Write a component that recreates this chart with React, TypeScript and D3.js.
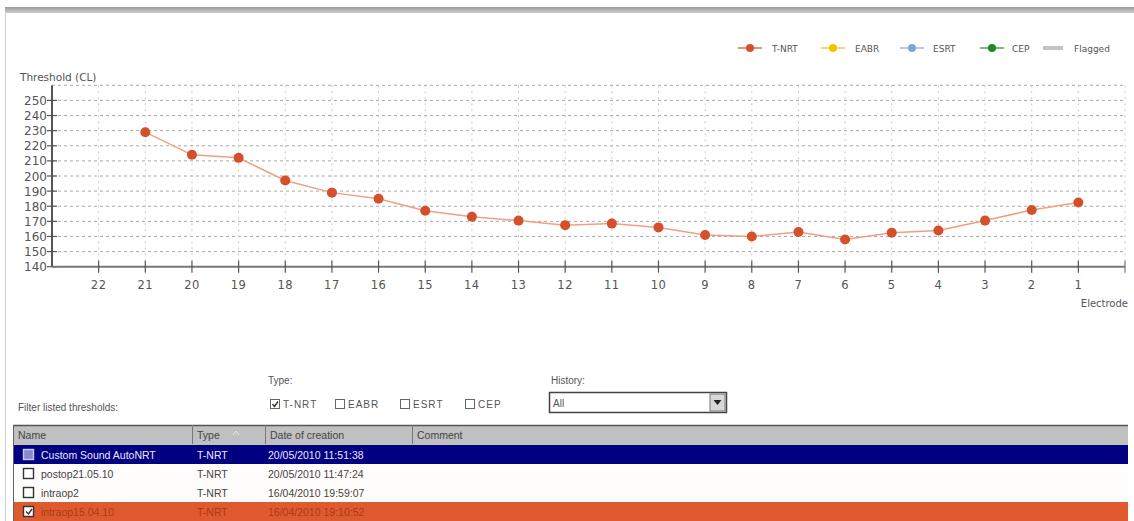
import React from "react";
import * as d3 from "d3";

const electrodes = [21, 20, 19, 18, 17, 16, 15, 14, 13, 12, 11, 10, 9, 8, 7, 6, 5, 4, 3, 2, 1];
const tnrtValues = [229, 214, 212, 197, 189, 185, 177, 173, 170.5, 167.5, 168.5, 166, 161, 160, 163, 158, 162.5, 164, 170.5, 177.5, 182.5];
const xTickLabels = [22, 21, 20, 19, 18, 17, 16, 15, 14, 13, 12, 11, 10, 9, 8, 7, 6, 5, 4, 3, 2, 1];
const yTickLabels = [140, 150, 160, 170, 180, 190, 200, 210, 220, 230, 240, 250];
const yGridValues = [150, 160, 170, 180, 190, 200, 210, 220, 230, 240, 250, 260];

const legendNames = ["T-NRT", "EABR", "ESRT", "CEP"];
const legendColors = ["#d4502a", "#f2c200", "#7ea6dc", "#1f8a1f"];

const typeFilters = ["T-NRT", "EABR", "ESRT", "CEP"];
const typeChecked = [true, false, false, false];

const tableHeaders = ["Name", "Type", "Date of creation", "Comment"];
const rowNames = ["Custom Sound AutoNRT", "postop21.05.10", "intraop2", "intraop15.04.10"];
const rowTypes = ["T-NRT", "T-NRT", "T-NRT", "T-NRT"];
const rowDates = ["20/05/2010 11:51:38", "20/05/2010 11:47:24", "16/04/2010 19:59:07", "16/04/2010 19:10:52"];

const W = 1134;
const H = 521;

export default function App() {
  const x = d3.scaleLinear().domain([23, 0]).range([52, 1125]);
  const y = d3.scaleLinear().domain([140, 260]).range([266.7, 85.3]);
  const line = d3
    .line<number>()
    .x((_, i) => x(electrodes[i]))
    .y((d) => y(d));

  const axisFont = "'DejaVu Sans', sans-serif";
  const uiFont = "'Liberation Sans', Arial, sans-serif";
  const textCol = "#555";

  // table geometry
  const tLeft = 13;
  const tRight = 1128;
  const headTop = 425;
  const headH = 19;
  const rowTops = [445, 464, 483, 502];
  const rowH = 19;
  const colX = [13, 192, 265, 412];
  const rowBg = ["#000080", "#fffdfb", "#fffdfb", "#e05a30"];
  const rowText = ["#e8e8ff", "#444", "#444", "#a83a18"];

  const legendMarkerX = [750, 833, 912, 992];
  const legendTextX = [772, 855, 933, 1012];

  const filterBoxX = [270, 335, 400, 465];

  return (
    <svg
      width={W}
      height={H}
      style={{ position: "absolute", left: 0, top: 0, background: "#fff" }}
    >
      <defs>
        <linearGradient id="topbar" x1="0" y1="0" x2="0" y2="1">
          <stop offset="0" stopColor="#9a9a9a" />
          <stop offset="1" stopColor="#cfcfcf" />
        </linearGradient>
      </defs>
      <rect x={0} y={0} width={W} height={H} fill="#fff" />
      {/* window frame */}
      <rect x={5} y={7} width={W - 5} height={6} fill="url(#topbar)" />
      <line x1={5.5} y1={13} x2={5.5} y2={H} stroke="#d0d0d0" strokeWidth={1} />

      {/* legend */}
      {legendNames.map((n, i) => (
        <g key={n}>
          <line
            x1={legendMarkerX[i] - 12}
            x2={legendMarkerX[i] + 12}
            y1={48}
            y2={48}
            stroke={legendColors[i]}
            strokeWidth={1.5}
            opacity={0.8}
          />
          <circle cx={legendMarkerX[i]} cy={48} r={4} fill={legendColors[i]} />
          <text
            x={legendTextX[i]}
            y={51.5}
            fontFamily={axisFont}
            fontSize={9}
            fill={textCol}
          >
            {n}
          </text>
        </g>
      ))}
      <rect x={1043} y={46} width={20} height={4} fill="#c4c4c4" />
      <text x={1074} y={51.5} fontFamily={axisFont} fontSize={9} fill={textCol}>
        Flagged
      </text>

      {/* y title */}
      <text x={20} y={81} fontFamily={axisFont} fontSize={10.5} fill={textCol}>
        Threshold (CL)
      </text>

      {/* grid */}
      {yGridValues.map((v) => (
        <line
          key={"hg" + v}
          x1={52}
          x2={1125}
          y1={y(v)}
          y2={y(v)}
          stroke="#a8a8a8"
          strokeWidth={1}
          strokeDasharray="3,3"
        />
      ))}
      {xTickLabels.map((e) => (
        <line
          key={"vg" + e}
          x1={x(e)}
          x2={x(e)}
          y1={y(260)}
          y2={y(140)}
          stroke="#c8c8c8"
          strokeWidth={1}
          strokeDasharray="2,4"
        />
      ))}
      <line x1={x(0)} x2={x(0)} y1={y(260)} y2={y(140)} stroke="#c8c8c8" strokeDasharray="2,4" />

      {/* y axis */}
      <line x1={52} x2={52} y1={y(260)} y2={y(140)} stroke="#555" strokeWidth={2} />
      {yTickLabels.map((v) => (
        <g key={"yt" + v}>
          <line x1={47} x2={57} y1={y(v)} y2={y(v)} stroke="#555" strokeWidth={1.2} />
          <text
            x={47}
            y={y(v) + 4.5}
            textAnchor="end"
            fontFamily={axisFont}
            fontSize={12}
            fill={textCol}
          >
            {v}
          </text>
        </g>
      ))}

      {/* x axis */}
      <line x1={52} x2={x(0)} y1={y(140)} y2={y(140)} stroke="#777" strokeWidth={2} />
      {xTickLabels.map((e) => (
        <g key={"xt" + e}>
          <line x1={x(e)} x2={x(e)} y1={y(140) - 6} y2={y(140) + 6} stroke="#555" strokeWidth={1.2} />
          <text
            x={x(e)}
            y={y(140) + 22}
            textAnchor="middle"
            fontFamily={axisFont}
            fontSize={11.5}
            letterSpacing={0.5}
            fill={textCol}
          >
            {e}
          </text>
        </g>
      ))}
      <line x1={x(0)} x2={x(0)} y1={y(140) - 6} y2={y(140) + 6} stroke="#777" strokeWidth={1.2} />
      <text x={1128} y={307} textAnchor="end" fontFamily={axisFont} fontSize={10} fill={textCol}>
        Electrode
      </text>

      {/* series */}
      <path d={line(tnrtValues) || ""} fill="none" stroke="#f0a080" strokeWidth={1.5} />
      {tnrtValues.map((v, i) => (
        <circle key={"pt" + i} cx={x(electrodes[i])} cy={y(v)} r={5} fill="#d4502a" />
      ))}

      {/* filter controls */}
      <text x={18} y={411} fontFamily={uiFont} fontSize={10} fill={textCol}>
        Filter listed thresholds:
      </text>
      <text x={268} y={384} fontFamily={uiFont} fontSize={10} fill={textCol}>
        Type:
      </text>
      {typeFilters.map((t, i) => (
        <g key={"tf" + t}>
          <rect
            x={filterBoxX[i] + 0.5}
            y={399.5}
            width={9}
            height={9}
            fill="#fff"
            stroke="#666"
            strokeWidth={1}
          />
          {typeChecked[i] && (
            <path
              d={`M${filterBoxX[i] + 2.5},${404} L${filterBoxX[i] + 4.5},${406.5} L${filterBoxX[i] + 8},${401.5}`}
              fill="none"
              stroke="#333"
              strokeWidth={1.4}
            />
          )}
          <text
            x={filterBoxX[i] + 13}
            y={408}
            fontFamily={uiFont}
            fontSize={10}
            letterSpacing={1}
            fill={textCol}
          >
            {t}
          </text>
        </g>
      ))}
      <text x={551} y={384} fontFamily={uiFont} fontSize={10} fill={textCol}>
        History:
      </text>
      <rect x={549.5} y={392.5} width={177} height={20} fill="#fff" stroke="#444" strokeWidth={1.5} />
      <text x={553} y={407} fontFamily={uiFont} fontSize={10} fill={textCol}>
        All
      </text>
      <rect x={710} y={394} width={15} height={17} fill="#d8d8d8" stroke="#777" strokeWidth={1} />
      <path d="M713.5,400 L721.5,400 L717.5,405 Z" fill="#222" />

      {/* table */}
      <rect x={tLeft} y={headTop} width={tRight - tLeft} height={headH + 1} fill="#c0c0c0" />
      <line x1={tLeft} x2={tRight} y1={headTop + 0.5} y2={headTop + 0.5} stroke="#555" strokeWidth={1.5} />
      <line x1={tLeft + 0.5} x2={tLeft + 0.5} y1={headTop} y2={H} stroke="#666" strokeWidth={1} />
      {colX.slice(1).map((cx) => (
        <line key={"cs" + cx} x1={cx + 0.5} x2={cx + 0.5} y1={headTop} y2={headTop + headH} stroke="#777" strokeWidth={1} />
      ))}
      {tableHeaders.map((h, i) => (
        <text
          key={"th" + h}
          x={colX[i] + 5}
          y={headTop + 14}
          fontFamily={uiFont}
          fontSize={10.5}
          fill="#444"
        >
          {h}
        </text>
      ))}
      <path d="M233,435 L236,431 L239,435" fill="none" stroke="#e8e8e8" strokeWidth={1} />

      {rowNames.map((n, i) => (
        <g key={"row" + i}>
          <rect x={tLeft + 1} y={rowTops[i]} width={tRight - tLeft - 1} height={rowH} fill={rowBg[i]} />
          <rect
            x={23.5}
            y={rowTops[i] + 4.5}
            width={10}
            height={10}
            fill={i === 0 ? "#8a86d0" : "#fff"}
            stroke={i === 0 ? "#c8c8f0" : "#333"}
            strokeWidth={1.4}
          />
          {i === 3 && (
            <path
              d={`M26,${rowTops[i] + 9.5} L28.5,${rowTops[i] + 12} L32,${rowTops[i] + 7}`}
              fill="none"
              stroke="#333"
              strokeWidth={1.4}
            />
          )}
          <text x={41} y={rowTops[i] + 13.5} fontFamily={uiFont} fontSize={10.5} fill={rowText[i]}>
            {n}
          </text>
          <text x={197} y={rowTops[i] + 13.5} fontFamily={uiFont} fontSize={10.5} fill={rowText[i]}>
            {rowTypes[i]}
          </text>
          <text x={268} y={rowTops[i] + 13.5} fontFamily={uiFont} fontSize={10.5} fill={rowText[i]}>
            {rowDates[i]}
          </text>
        </g>
      ))}
    </svg>
  );
}
